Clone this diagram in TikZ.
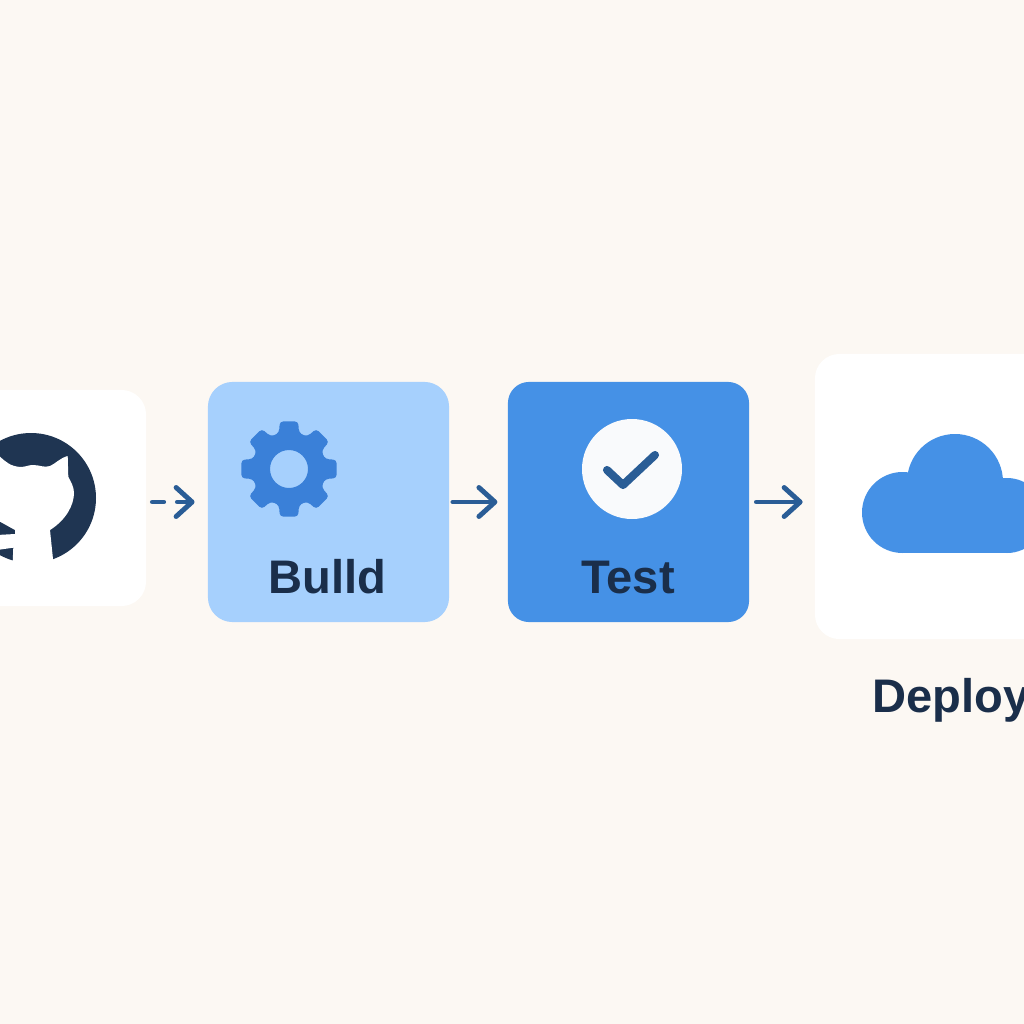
\documentclass[tikz,border=0pt]{standalone}
\usepackage{fontspec}
\setmainfont{Liberation Sans}
\usetikzlibrary{arrows.meta}
\definecolor{paper}{HTML}{FCF8F3}
\definecolor{navy}{HTML}{1F3552}
\definecolor{inkblue}{HTML}{1A2E4A}
\definecolor{flowblue}{HTML}{2A5D96}
\definecolor{palebox}{HTML}{A6D0FD}
\definecolor{testbox}{HTML}{4591E6}
\definecolor{gearblue}{HTML}{3A80D8}
\definecolor{checkwhite}{HTML}{F9FAFC}
\tikzset{
  card/.style={rectangle,rounded corners=7pt,inner sep=0pt},
  stage/.style={card,minimum width=2.41cm,minimum height=2.4cm},
  flow/.style={-{Straight Barb[length=1.6mm,width=2.9mm,round]},line width=1.4pt,line cap=round,color=flowblue},
  caption/.style={inner sep=0pt,anchor=base,text=inkblue,font=\fontsize{13.4}{16}\selectfont\bfseries}
}
\begin{document}
\begin{tikzpicture}[x=0.01cm,y=-0.01cm]
\useasboundingbox (0,0) rectangle (1024,1024);
\fill[paper](0,0) rectangle (1024,1024);
\clip (0,0) rectangle (1024,1024);
\node[card,fill=white,minimum width=2.3cm,minimum height=2.16cm] (repo) at (31,498) {};
\node[stage,fill=palebox] (build) at (328.5,502) {};
\node[stage,fill=testbox,rounded corners=6pt] (test) at (628.5,502) {};
\node[card,fill=white,minimum width=2.85cm,minimum height=2.85cm] (deploy) at (957.5,496.5) {};
\fill[navy](31,498) circle(65);
\fill[white](-3,456)--(0,456.7)..controls (6,462) and (10,466) .. (20,467)
  ..controls (26,467) and (28,465) .. (33,465)..controls (40,465) and (44,468) .. (50,466)
  ..controls (55,464) and (60,458) .. (67.7,456)--(68.3,476.7)
  ..controls (71,482) and (74,487) .. (74,493)..controls (74,505) and (66,520) .. (50,530)
  --(53.3,562)--(53.3,580)--(12.7,580)--(12.7,562)--(13.3,547.7)--(-3,550)--(-3,535)
  --(15,534)--(15,530)--(-3,520)--cycle;
\fill[gearblue,even odd rule,shift={(289,469)}]
  [rounded corners=1pt](-15:38)--(-11:48.5)--(11:48.5)--(15:38)--(22.5:36.5)
  \foreach \a in {45,90,...,315}{--(\a-15:38)--(\a-11:48.5)--(\a+11:48.5)--(\a+15:38)--(\a+22.5:36.5)}--cycle
  (0,0) circle(19);
\fill[checkwhite] (632,469) circle(50) node (checkdisc) {};
\draw[flowblue,line width=2.3pt,line cap=round,line join=round](607,470)--(623,485)--(655,455);
\fill[testbox](955,482) circle(48);
\fill[testbox](902.5,512.5) circle(40.5);
\fill[testbox](1007,515.5) circle(37.5);
\fill[testbox](902.5,500) rectangle (1007,553);
\node[caption] (buildlabel) at (327.5,593) {Bulld};
\node[caption] (testlabel) at (628,593) {Test};
\node[caption,anchor=base west] (deploylabel) at (872,712) {Deploy};
\draw[flow,dash pattern=on 3.2pt off 3.9pt on 6pt off 0pt,shorten <=1.6pt,shorten >=3.6pt](repo.east |- build.west)--(build.west);
\draw[flow,shorten <=0.9pt,shorten >=2.8pt](build.east)--(test.west);
\draw[flow,shorten <=1.9pt,shorten >=3.3pt](test.east)--(deploy.west |- test.east);
\end{tikzpicture}
\end{document}
